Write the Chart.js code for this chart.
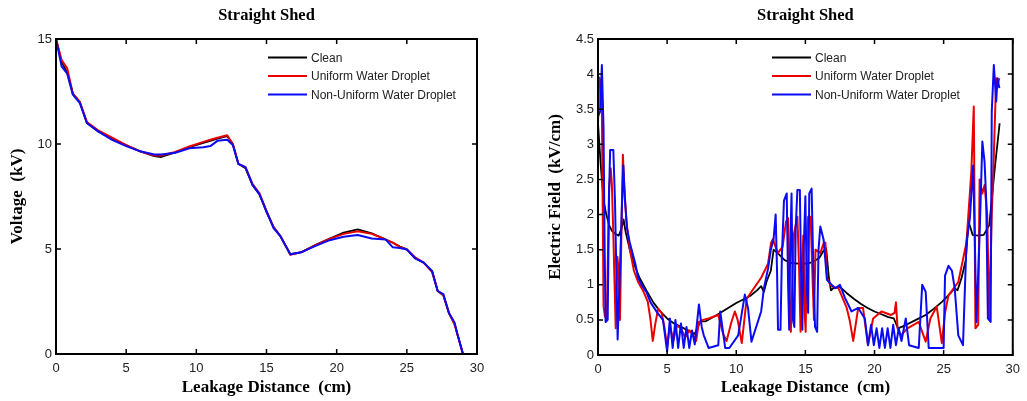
<!DOCTYPE html>
<html>
<head>
<meta charset="utf-8">
<script src="https://cdn.jsdelivr.net/npm/chart.js@4.4.1/dist/chart.umd.min.js"></script>
<style>
  body { margin: 0; background: #fff; overflow: hidden; }
  #voltageChart { position: absolute; left: 0; top: 0; }
  #fieldChart { position: absolute; left: 513px; top: 0; }
</style>
</head>
<body>
<canvas id="voltageChart" width="513" height="401"></canvas>
<canvas id="fieldChart" width="514" height="401"></canvas>
<script>
// series names
const seriesNames = ["Clean", "Uniform Water Droplet", "Non-Uniform Water Droplet"];
const seriesColors = ["#000000", "rgb(235,0,0)", "rgb(10,10,245)"];

// left plot: voltage along the leakage path (cm -> kV)
const voltX = [0, 0.4, 0.8, 1.2, 1.7, 2.2, 3, 4, 5, 6, 7, 7.5, 8.5, 9.5, 10.5, 11, 11.5, 12.2, 12.6, 13,
  13.5, 14, 14.5, 15, 15.5, 16, 16.7, 17.5, 18.5, 19.5, 20.5, 21.5, 22.5, 23.5, 24, 24.5, 25, 25.6, 26.2, 26.8,
  27.2, 27.6, 28, 28.4, 28.6, 29];
const voltClean = [15, 13.9, 13.4, 12.4, 12.0, 11.0, 10.6, 10.25, 9.95, 9.65, 9.42, 9.38, 9.6, 9.85, 10.05, 10.15,
  10.25, 10.37, 10.0, 9.05, 8.85, 8.05, 7.6, 6.75, 6.05, 5.6, 4.75, 4.85, 5.2, 5.5, 5.78, 5.93, 5.75, 5.45, 5.3, 5.12,
  4.98, 4.55, 4.35, 3.95, 3.0, 2.8, 1.95, 1.45, 0.95, 0];
const voltUniform = [15, 14.0, 13.6, 12.4, 12.0, 11.05, 10.65, 10.3, 9.95, 9.65, 9.45, 9.45, 9.62, 9.88, 10.1, 10.2,
  10.3, 10.42, 10.0, 9.05, 8.9, 8.1, 7.65, 6.8, 6.05, 5.6, 4.72, 4.85, 5.18, 5.48, 5.72, 5.85, 5.72, 5.45, 5.3, 5.1,
  4.98, 4.6, 4.35, 3.9, 3.0, 2.8, 1.95, 1.4, 0.95, 0];
const voltNonUniform = [15, 13.7, 13.35, 12.35, 11.95, 11.0, 10.6, 10.2, 9.9, 9.65, 9.5, 9.5, 9.58, 9.8, 9.85, 9.9,
  10.15, 10.2, 9.95, 9.05, 8.9, 8.05, 7.6, 6.8, 6.0, 5.6, 4.75, 4.85, 5.15, 5.42, 5.58, 5.67, 5.5, 5.45, 5.08, 5.05,
  4.98, 4.55, 4.35, 3.95, 3.0, 2.85, 1.95, 1.5, 0.95, 0];
const voltTicks = [0, 5, 10, 15];

// right plot: electric field along the leakage path, [cm, kV/cm]
const fieldClean = [[0, 3.3], [0.2, 2.7], [0.4, 2.2], [0.6, 2.0], [0.8, 1.85], [1.0, 1.77], [1.3, 1.72], [1.5, 1.7],
  [1.7, 1.8], [1.85, 1.93], [2.0, 1.75], [2.3, 1.5], [2.7, 1.25], [3.0, 1.1], [3.5, 0.92], [4.0, 0.75], [4.5, 0.62],
  [5.0, 0.52], [5.5, 0.45], [6.0, 0.4], [6.5, 0.35], [7.0, 0.3], [7.4, 0.48], [7.8, 0.48], [8.5, 0.56], [9.0, 0.62],
  [9.5, 0.68], [10.0, 0.74], [10.5, 0.79], [11.0, 0.84], [11.5, 0.92], [11.8, 0.98], [12.0, 0.9], [12.2, 1.05],
  [12.5, 1.2], [12.7, 1.5], [13.0, 1.45], [13.5, 1.35], [14.0, 1.31], [14.5, 1.3], [15.0, 1.3], [15.5, 1.32],
  [16.0, 1.38], [16.3, 1.48], [16.5, 1.52], [16.7, 1.1], [16.85, 0.92], [17.0, 0.95], [17.5, 0.97], [18.0, 0.88],
  [18.5, 0.8], [19.0, 0.73], [19.5, 0.67], [20.0, 0.62], [20.5, 0.58], [21.0, 0.54], [21.4, 0.52], [21.7, 0.38],
  [22.3, 0.43], [23.0, 0.5], [23.7, 0.57], [24.3, 0.66], [24.9, 0.76], [25.5, 0.88], [25.8, 0.95], [26.0, 0.92],
  [26.3, 1.1], [26.6, 1.35], [26.8, 1.9], [27.1, 1.71], [27.5, 1.7], [27.9, 1.71], [28.3, 1.85], [28.7, 2.66],
  [29.05, 3.3]];
const fieldUniform = [[0, 3.3], [0.09, 3.95], [0.2, 3.9], [0.28, 3.5], [0.4, 0.7], [0.5, 0.55], [0.64, 0.52],
  [0.8, 2.37], [0.92, 2.66], [1.0, 2.45], [1.11, 1.71], [1.28, 0.38], [1.4, 1.4], [1.5, 1.2], [1.59, 0.5], [1.7, 1.8],
  [1.8, 2.85], [1.9, 2.4], [2.06, 1.9], [2.3, 1.5], [2.6, 1.2], [2.9, 1.04], [3.3, 0.9], [3.6, 0.76], [3.8, 0.5],
  [3.96, 0.2], [4.15, 0.45], [4.35, 0.66], [4.6, 0.6], [4.8, 0.4], [5.0, 0.12], [5.2, 0.42], [5.45, 0.2], [5.7, 0.42],
  [6.0, 0.38], [6.3, 0.25], [6.6, 0.35], [6.9, 0.28], [7.1, 0.2], [7.3, 0.47], [7.6, 0.5], [8.0, 0.52], [8.7, 0.57],
  [9.05, 0.3], [9.3, 0.2], [9.65, 0.47], [9.9, 0.62], [10.1, 0.5], [10.4, 0.17], [10.75, 0.8], [11.1, 0.9],
  [11.8, 1.1], [12.3, 1.3], [12.52, 1.6], [12.65, 1.65], [13.0, 1.45], [13.35, 1.54], [13.6, 1.9], [13.75, 1.95],
  [13.88, 0.6], [13.95, 0.33], [14.05, 1.0], [14.18, 1.73], [14.42, 1.97], [14.55, 1.2], [14.65, 0.33], [14.75, 1.2],
  [14.85, 1.7], [14.95, 0.6], [15.02, 0.33], [15.1, 1.5], [15.2, 1.97], [15.38, 1.97], [15.5, 1.2], [15.62, 0.5],
  [15.73, 1.5], [16.08, 1.45], [16.32, 1.59], [16.45, 1.6], [16.56, 1.1], [16.8, 1.0], [17.0, 0.97], [17.4, 0.95],
  [17.99, 0.67], [18.2, 0.5], [18.46, 0.2], [18.82, 0.67], [19.17, 0.67], [19.35, 0.4], [19.53, 0.14], [19.9, 0.52],
  [20.5, 0.62], [21.2, 0.57], [21.45, 0.6], [21.55, 0.75], [21.67, 0.38], [21.9, 0.28], [22.38, 0.38], [23.2, 0.47],
  [23.5, 0.3], [23.7, 0.19], [24.04, 0.52], [24.5, 0.69], [24.87, 0.17], [25.1, 0.6], [25.35, 0.85], [26.06, 1.04],
  [26.65, 1.6], [27.0, 2.6], [27.18, 3.54], [27.3, 0.38], [27.5, 0.43], [27.6, 2.5], [27.8, 2.3], [27.96, 2.42],
  [28.15, 2.0], [28.3, 0.52], [28.48, 2.0], [28.6, 2.66], [28.8, 3.94], [28.9, 3.85], [29.03, 3.94]];
const fieldNonUniform = [[0, 3.4], [0.16, 3.47], [0.28, 4.13], [0.4, 3.23], [0.47, 1.7], [0.55, 0.47], [0.7, 0.5],
  [0.8, 2.3], [0.88, 2.92], [1.11, 2.92], [1.23, 2.18], [1.42, 0.22], [1.59, 1.23], [1.71, 2.0], [1.83, 2.7],
  [1.95, 2.2], [2.1, 1.8], [2.3, 1.6], [2.5, 1.45], [2.7, 1.3], [2.9, 1.1], [3.2, 0.98], [3.5, 0.9], [3.8, 0.75],
  [4.3, 0.6], [4.7, 0.5], [5.0, 0.05], [5.2, 0.52], [5.4, 0.1], [5.6, 0.5], [5.8, 0.1], [6.0, 0.45], [6.2, 0.1],
  [6.4, 0.4], [6.6, 0.1], [6.8, 0.35], [7.0, 0.15], [7.3, 0.72], [7.5, 0.4], [7.65, 0.28], [8.0, 0.1], [8.7, 0.14],
  [8.84, 0.62], [9.2, 0.1], [9.5, 0.1], [10.14, 0.28], [10.62, 0.86], [10.85, 0.67], [11.1, 0.19], [11.8, 0.62],
  [12.0, 0.95], [12.3, 1.23], [12.5, 1.5], [12.7, 1.65], [12.85, 2.0], [12.95, 1.2], [13.02, 0.36], [13.2, 0.36],
  [13.3, 1.4], [13.45, 2.2], [13.65, 2.3], [13.75, 1.0], [13.83, 0.36], [13.9, 1.5], [14.0, 2.3], [14.1, 0.5],
  [14.2, 0.4], [14.3, 1.8], [14.42, 2.35], [14.6, 2.35], [14.7, 1.0], [14.78, 0.36], [14.88, 1.5], [15.0, 2.26],
  [15.1, 1.0], [15.2, 0.6], [15.28, 2.3], [15.45, 2.37], [15.6, 1.0], [15.7, 0.4], [15.85, 0.33], [15.95, 1.5],
  [16.08, 1.83], [16.32, 1.64], [16.56, 1.07], [16.8, 1.02], [17.16, 0.95], [17.5, 1.0], [17.87, 0.81], [18.34, 0.62],
  [18.82, 0.67], [19.3, 0.52], [19.53, 0.14], [19.75, 0.43], [19.95, 0.14], [20.15, 0.38], [20.35, 0.1], [20.55, 0.38],
  [20.75, 0.1], [20.95, 0.38], [21.15, 0.1], [21.35, 0.43], [21.55, 0.14], [21.75, 0.38], [21.95, 0.2], [22.26, 0.52],
  [22.5, 0.14], [23.2, 0.1], [23.45, 1.0], [23.7, 0.9], [23.92, 0.1], [24.6, 0.1], [25.0, 0.1], [25.1, 1.13],
  [25.35, 1.27], [25.6, 1.2], [25.8, 0.95], [26.06, 0.28], [26.4, 0.14], [26.65, 1.6], [26.9, 1.95], [27.13, 2.7],
  [27.25, 1.7], [27.37, 0.47], [27.6, 1.7], [27.8, 3.04], [27.96, 2.75], [28.08, 2.2], [28.2, 0.52], [28.4, 0.47],
  [28.48, 3.46], [28.63, 4.13], [28.8, 3.61], [28.9, 3.94], [29.03, 3.8]];
const fieldTicks = [0, 0.5, 1, 1.5, 2, 2.5, 3, 3.5, 4, 4.5];
const distTicks = [0, 5, 10, 15, 20, 25, 30];

// MATLAB style box with inward ticks on all four sides
const matlabAxes = {
  id: "matlabAxes",
  afterDatasetsDraw(chart) {
    const { ctx, chartArea: a, scales } = chart;
    ctx.save();
    ctx.strokeStyle = "#000";
    ctx.lineWidth = 1.5;
    ctx.beginPath();
    scales.x.ticks.forEach((t) => {
      const px = scales.x.getPixelForValue(t.value);
      ctx.moveTo(px, a.bottom); ctx.lineTo(px, a.bottom - 5);
      ctx.moveTo(px, a.top); ctx.lineTo(px, a.top + 5);
    });
    scales.y.ticks.forEach((t) => {
      const py = scales.y.getPixelForValue(t.value);
      ctx.moveTo(a.left, py); ctx.lineTo(a.left + 5, py);
      ctx.moveTo(a.right, py); ctx.lineTo(a.right - 5, py);
    });
    ctx.stroke();
    ctx.lineWidth = 2;
    ctx.strokeRect(a.left, a.top, a.right - a.left, a.bottom - a.top);
    ctx.restore();
  },
};

// legend without a box, placed inside the axes
const lineKey = {
  id: "lineKey",
  afterDraw(chart, args, opts) {
    const { ctx, chartArea: a } = chart;
    ctx.save();
    ctx.font = "12px 'Liberation Sans', Arial, sans-serif";
    ctx.textBaseline = "middle";
    ctx.textAlign = "left";
    chart.data.datasets.forEach((ds, i) => {
      const y = a.top + opts.top + i * opts.gap;
      ctx.strokeStyle = ds.borderColor;
      ctx.lineWidth = 2;
      ctx.beginPath();
      ctx.moveTo(opts.x, y);
      ctx.lineTo(opts.x + 39, y);
      ctx.stroke();
      ctx.fillStyle = "#222";
      ctx.fillText(ds.label, opts.x + 43, y + 1);
    });
    ctx.restore();
  },
};

function makeDatasets(series) {
  return series.map((pts, i) => ({
    label: seriesNames[i],
    data: pts,
    borderColor: seriesColors[i],
    borderWidth: i === 0 ? 1.8 : 2,
    borderJoinStyle: "round",
    pointRadius: 0,
    tension: 0,
    fill: false,
    order: 3 - i,
  }));
}

const tickFont = { family: "'Liberation Sans', Arial, sans-serif", size: 13 };
const titleFont = { family: "'Liberation Serif', 'Times New Roman', serif", size: 17, weight: "bold" };

function makeOptions(cfg) {
  return {
    responsive: false,
    animation: false,
    layout: { padding: { left: 0, right: cfg.padRight, top: 0, bottom: 0 } },
    plugins: {
      legend: { display: false },
      tooltip: { enabled: false },
      title: {
        display: true,
        text: "Straight Shed",
        fullSize: false,
        color: "#000",
        font: { family: "'Liberation Serif', 'Times New Roman', serif", size: 16.5, weight: "bold" },
        padding: { top: 6, bottom: 13.2 },
      },
      lineKey: { x: cfg.keyX, top: 18.5, gap: 18.5 },
    },
    scales: {
      x: {
        type: "linear",
        min: 0,
        max: 30,
        afterBuildTicks: (s) => { s.ticks = distTicks.map((v) => ({ value: v })); },
        afterFit: (s) => { s.height = cfg.xHeight; },
        grid: { display: false, drawTicks: false },
        border: { display: false },
        ticks: { font: tickFont, color: "#222", padding: 7, maxRotation: 0, autoSkip: false,
          callback: (v) => String(v) },
        title: { display: true, text: "Leakage Distance  (cm)", color: "#000", font: titleFont,
          padding: { top: 0, bottom: 3 } },
      },
      y: {
        type: "linear",
        min: 0,
        max: cfg.yMax,
        afterBuildTicks: (s) => { s.ticks = cfg.yTicks.map((v) => ({ value: v })); },
        afterFit: (s) => { s.width = cfg.yWidth; },
        grid: { display: false, drawTicks: false },
        border: { display: false },
        ticks: { font: tickFont, color: "#222", padding: 4, autoSkip: false,
          callback: (v) => String(v) },
        title: { display: true, text: cfg.yTitle, color: "#000", font: titleFont,
          padding: { top: cfg.yTitlePad, bottom: 0 } },
      },
    },
  };
}

new Chart(document.getElementById("voltageChart"), {
  type: "line",
  data: {
    datasets: makeDatasets([voltClean, voltUniform, voltNonUniform].map((ys) =>
      ys.map((v, k) => ({ x: voltX[k], y: v })))),
  },
  options: makeOptions({ padRight: 36, xHeight: 47, yWidth: 56, yMax: 15, yTicks: voltTicks,
    yTitle: "Voltage  (kV)", yTitlePad: 7, keyX: 268 }),
  plugins: [matlabAxes, lineKey],
});

new Chart(document.getElementById("fieldChart"), {
  type: "line",
  data: {
    datasets: makeDatasets([fieldClean, fieldUniform, fieldNonUniform].map((pts) =>
      pts.map((p) => ({ x: p[0], y: p[1] })))),
  },
  options: makeOptions({ padRight: 8, xHeight: 46, yWidth: 85, yMax: 4.5, yTicks: fieldTicks,
    yTitle: "Electric Field  (kV/cm)", yTitlePad: 32, keyX: 259 }),
  plugins: [matlabAxes, lineKey],
});
</script>
</body>
</html>
